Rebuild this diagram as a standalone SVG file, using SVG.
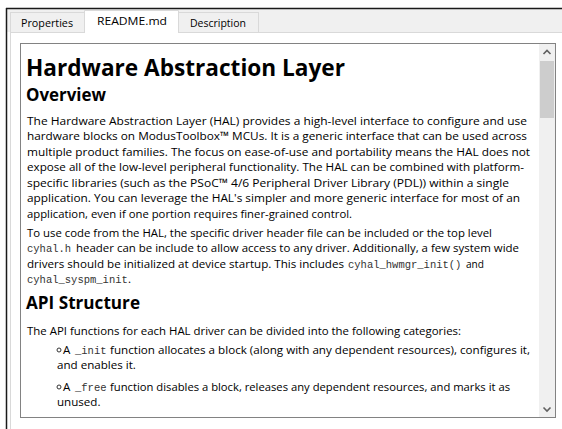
<svg xmlns="http://www.w3.org/2000/svg" width="562" height="429" viewBox="0 0 562 429">
<style>
.ui{font-family:"Open Sans","Noto Sans",sans-serif;font-size:11.5px;fill:#000}
.p{font-family:"Open Sans","Noto Sans",sans-serif;font-size:11.6px;fill:#000}
.c{font-family:"Liberation Mono","DejaVu Sans Mono",monospace;font-size:10.5px;fill:#333}
.h1{font-family:"Open Sans","Noto Sans",sans-serif;font-size:24px;font-weight:bold;fill:#000}
.h2{font-family:"Open Sans","Noto Sans",sans-serif;font-size:18px;font-weight:bold;fill:#000}
.tab{fill:#f0f0f0;stroke:#d9d9d9;stroke-width:1}
.arr{fill:none;stroke:#606060;stroke-width:1.6}
.bul{fill:none;stroke:#333;stroke-width:1}
</style>
<defs>
<clipPath id="doc"><rect x="21" y="44" width="518" height="373"/></clipPath>
</defs>
<rect x="0" y="0" width="562" height="429" fill="#fff"/>
<g id="window">
<rect x="6" y="9" width="556" height="23" fill="#f0f0f0"/>
<line x1="6" y1="8.5" x2="562" y2="8.5" stroke="#1a1a1a" stroke-width="1.5"/>
<line x1="6.5" y1="8" x2="6.5" y2="429" stroke="#1a1a1a" stroke-width="1.5"/>
<line x1="10.5" y1="32.5" x2="10.5" y2="429" stroke="#d9d9d9"/>
<line x1="10" y1="32.5" x2="562" y2="32.5" stroke="#d9d9d9"/>
</g>
<g id="tab-properties">
<rect class="tab" x="10.5" y="12.5" width="74" height="20"/>
<text class="ui" x="21" y="26.5" textLength="52" lengthAdjust="spacingAndGlyphs">Properties</text>
</g>
<g id="tab-readme">
<path d="M84.5 33V10.5H178.5V33" fill="#fff" stroke="#d9d9d9"/>
<text class="ui" x="97" y="25" textLength="70" lengthAdjust="spacingAndGlyphs">README.md</text>
</g>
<g id="tab-description">
<rect class="tab" x="178.5" y="12.5" width="80" height="20"/>
<text class="ui" x="190" y="26.5" textLength="56" lengthAdjust="spacingAndGlyphs">Description</text>
</g>
<g id="document">
<rect x="20.5" y="43.5" width="535" height="374" fill="#fff" stroke="#828282"/>
</g>
<g id="scrollbar">
<rect x="539" y="44" width="16" height="373" fill="#f0f0f0"/>
<rect x="540" y="61" width="14" height="57" fill="#cdcdcd"/>
<path class="arr" d="M543.5 54L547 50.5L550.5 54"/>
<path class="arr" d="M543.5 407.5L547 411L550.5 407.5"/>
</g>
<g id="content" clip-path="url(#doc)">
<text class="h1" x="26" y="76" textLength="319" lengthAdjust="spacingAndGlyphs">Hardware Abstraction Layer</text>
<text class="h2" x="26" y="101" textLength="80" lengthAdjust="spacingAndGlyphs">Overview</text>
<text class="p" x="27" y="124.5" textLength="500" lengthAdjust="spacingAndGlyphs">The Hardware Abstraction Layer (HAL) provides a high-level interface to configure and use</text>
<text class="p" x="27" y="140" textLength="500" lengthAdjust="spacingAndGlyphs">hardware blocks on ModusToolbox™ MCUs. It is a generic interface that can be used across</text>
<text class="p" x="27" y="155.5" textLength="503" lengthAdjust="spacingAndGlyphs">multiple product families. The focus on ease-of-use and portability means the HAL does not</text>
<text class="p" x="27" y="171" textLength="497" lengthAdjust="spacingAndGlyphs">expose all of the low-level peripheral functionality. The HAL can be combined with platform-</text>
<text class="p" x="27" y="186.5" textLength="482" lengthAdjust="spacingAndGlyphs">specific libraries (such as the PSoC™ 4/6 Peripheral Driver Library (PDL)) within a single</text>
<text class="p" x="27" y="202" textLength="493" lengthAdjust="spacingAndGlyphs">application. You can leverage the HAL's simpler and more generic interface for most of an</text>
<text class="p" x="27" y="217.5" textLength="325" lengthAdjust="spacingAndGlyphs">application, even if one portion requires finer-grained control.</text>
<text class="p" x="27" y="236.5" textLength="465" lengthAdjust="spacingAndGlyphs">To use code from the HAL, the specific driver header file can be included or the top level</text>
<text class="c" x="27" y="252">cyhal.h</text>
<text class="p" x="76" y="252" textLength="443" lengthAdjust="spacingAndGlyphs">header can be include to allow access to any driver. Additionally, a few system wide</text>
<text class="p" x="27" y="267.5" textLength="317" lengthAdjust="spacingAndGlyphs">drivers should be initialized at device startup. This includes</text>
<text class="c" x="348" y="267.5">cyhal_hwmgr_init()</text>
<text class="p" x="466" y="267.5" textLength="18" lengthAdjust="spacingAndGlyphs">and</text>
<text class="c" x="27" y="283">cyhal_syspm_init</text>
<text class="p" x="128" y="283">.</text>
<text class="h2" x="26" y="309" textLength="114" lengthAdjust="spacingAndGlyphs">API Structure</text>
<text class="p" x="27" y="334.5" textLength="434" lengthAdjust="spacingAndGlyphs">The API functions for each HAL driver can be divided into the following categories:</text>
<circle class="bul" cx="59" cy="350" r="2"/>
<text class="p" x="63" y="353.5">A</text>
<text class="c" x="75" y="353.5">_init</text>
<text class="p" x="110" y="353.5" textLength="420" lengthAdjust="spacingAndGlyphs">function allocates a block (along with any dependent resources), configures it,</text>
<text class="p" x="57" y="369">and enables it.</text>
<circle class="bul" cx="59" cy="387" r="2"/>
<text class="p" x="63" y="390.5">A</text>
<text class="c" x="75" y="390.5">_free</text>
<text class="p" x="110" y="390.5" textLength="400" lengthAdjust="spacingAndGlyphs">function disables a block, releases any dependent resources, and marks it as</text>
<text class="p" x="57" y="406">unused.</text>
<circle class="bul" cx="59" cy="422" r="2"/>
<text class="p" x="63" y="425.5" textLength="440" lengthAdjust="spacingAndGlyphs">Additional functions provide access to the allocated block-specific functionality and information.</text>
</g>
</svg>
